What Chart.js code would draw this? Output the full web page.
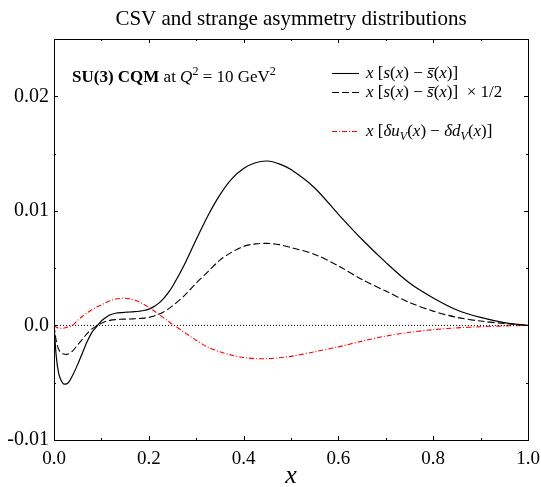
<!DOCTYPE html>
<html>
<head>
<meta charset="utf-8">
<script src="https://cdn.jsdelivr.net/npm/chart.js@4/dist/chart.umd.min.js"></script>
<style>
  html, body { margin: 0; padding: 0; background: #fff; }
  #wrap { width: 541px; height: 487px; }
</style>
</head>
<body>
<div id="wrap"><canvas id="c" width="541" height="487"></canvas></div>
<script>
// Momentum fraction grid shared by all curves
const xGrid = [
  0, 0.005, 0.01, 0.015, 0.02,
  0.03, 0.04, 0.05, 0.06, 0.07, 0.08, 0.09, 0.10, 0.11, 0.12, 0.13, 0.14, 0.15,
  0.16, 0.17, 0.18, 0.19, 0.20, 0.21, 0.22, 0.23, 0.24, 0.25,
  0.275, 0.30, 0.325, 0.35, 0.375, 0.40, 0.425, 0.45, 0.475, 0.50,
  0.55, 0.60, 0.65, 0.70, 0.75, 0.80, 0.85, 0.90, 0.95, 1.00
];

// x[s(x) - sbar(x)]
const strangeAsym = [
  0, -0.0028, -0.0042, -0.0048, -0.0051,
  -0.0050, -0.0043, -0.0034, -0.0024, -0.0014, -0.0006, -0.0001, 0.0004, 0.00072, 0.00095, 0.00106, 0.00112, 0.00115,
  0.00117, 0.0012, 0.00124, 0.0013, 0.00142, 0.00162, 0.0019, 0.0023, 0.0028, 0.0034,
  0.0053, 0.0075, 0.0096, 0.0114, 0.0128, 0.0137, 0.0142, 0.01435, 0.0141, 0.0136,
  0.0120, 0.0097, 0.0075, 0.0055, 0.0037, 0.0024, 0.00135, 0.0007, 0.00025, 0
];

// x[s(x) - sbar(x)] x 1/2
const strangeAsymHalf = [
  0, -0.0014, -0.0021, -0.0024, -0.0025,
  -0.0025, -0.0022, -0.0017, -0.0012, -0.0007, -0.0003, -0.00005, 0.0002, 0.00036, 0.00046, 0.00051, 0.00054, 0.00055,
  0.00056, 0.00058, 0.0006, 0.00064, 0.0007, 0.0008, 0.00095, 0.00115, 0.0014, 0.0017,
  0.0026, 0.0037, 0.0047, 0.0057, 0.0064, 0.0069, 0.00712, 0.00716, 0.00705, 0.0068,
  0.0062, 0.0052, 0.0040, 0.0030, 0.0020, 0.00125, 0.0007, 0.00038, 0.00017, 0
];

// x[delta u_V(x) - delta d_V(x)]
const csvValence = [
  0, -0.00015, -0.00022, -0.00025, -0.00024,
  -0.00014, 0.00003, 0.00045, 0.0008, 0.0011, 0.00137, 0.0016, 0.0018, 0.002, 0.00218, 0.0023, 0.00236, 0.00237,
  0.00232, 0.00222, 0.00205, 0.00183, 0.00158, 0.0013, 0.001, 0.0007, 0.0004, 0.0001,
  -0.0006, -0.0013, -0.0019, -0.0023, -0.0026, -0.0028, -0.0029, -0.0029, -0.00282, -0.0027,
  -0.0023, -0.00187, -0.00137, -0.00093, -0.0006, -0.00037, -0.00021, -0.00011, -0.00004, 0
];

const zeroLineX = [0, 1];
const zeroLineY = [0, 0];

const xTickValues = [0, 0.2, 0.4, 0.6, 0.8, 1.0];
const xTickLabels = ['0.0', '0.2', '0.4', '0.6', '0.8', '1.0'];
const yTickValues = [-0.01, 0, 0.01, 0.02];
const yTickLabels = ['-0.01', '0.0', '0.01', '0.02'];

const SERIF = '"Liberation Serif", "Times New Roman", serif';

function pts(xs, ys) { return xs.map((x, i) => ({ x: x, y: ys[i] })); }

function labelFor(values, labels, v) {
  for (let i = 0; i < values.length; i++) {
    if (Math.abs(values[i] - v) < 1e-9) return labels[i];
  }
  return '';
}

// draws a sequence of text runs (italic / bold / sub / sup / overline)
function drawRuns(ctx, x, y, runs, size) {
  let cx = x;
  ctx.textAlign = 'left';
  ctx.textBaseline = 'alphabetic';
  for (const r of runs) {
    const s = (r.sup || r.sub) ? Math.round(size * 0.7) : size;
    ctx.font = (r.i ? 'italic ' : '') + (r.b ? 'bold ' : '') + s + 'px ' + SERIF;
    const dy = r.sup ? -size * 0.42 : (r.sub ? size * 0.22 : 0);
    ctx.fillText(r.t, cx, y + dy);
    const w = ctx.measureText(r.t).width;
    if (r.over) {
      ctx.save();
      ctx.lineWidth = 1;
      ctx.beginPath();
      ctx.moveTo(cx + 1.5, y - size * 0.56);
      ctx.lineTo(cx + w + 1, y - size * 0.56);
      ctx.stroke();
      ctx.restore();
    }
    cx += w + (r.gap || 0);
  }
}

const legendRows = [
  { y: 73, color: '#000', dash: [], runs: [
    { t: 'x', i: true }, { t: ' [' }, { t: 's', i: true }, { t: '(' }, { t: 'x', i: true }, { t: ') \u2212 ' },
    { t: 's', i: true, over: true }, { t: '(' }, { t: 'x', i: true }, { t: ')]' }
  ]},
  { y: 92, color: '#000', dash: [7, 3], runs: [
    { t: 'x', i: true }, { t: ' [' }, { t: 's', i: true }, { t: '(' }, { t: 'x', i: true }, { t: ') \u2212 ' },
    { t: 's', i: true, over: true }, { t: '(' }, { t: 'x', i: true }, { t: ')]  \u00d7 1/2' }
  ]},
  { y: 131, color: 'rgb(255,0,0)', dash: [5, 2, 1, 2], runs: [
    { t: 'x', i: true }, { t: ' [' }, { t: '\u03b4u', i: true }, { t: 'V', i: true, sub: true }, { t: '(' },
    { t: 'x', i: true }, { t: ') \u2212 ' }, { t: '\u03b4d', i: true }, { t: 'V', i: true, sub: true },
    { t: '(' }, { t: 'x', i: true }, { t: ')]' }
  ]}
];

const decorPlugin = {
  id: 'decor',
  afterDraw(chart) {
    const ctx = chart.ctx;
    const a = chart.chartArea;
    const xs = chart.scales.x, ys = chart.scales.y;
    ctx.save();
    // frame
    ctx.strokeStyle = '#000';
    ctx.lineWidth = 1;
    ctx.strokeRect(Math.round(a.left) + 0.5, Math.round(a.top) + 0.5,
                   Math.round(a.right - a.left), Math.round(a.bottom - a.top));
    // inward ticks on all four sides
    ctx.beginPath();
    for (let k = 0; k <= 10; k++) {
      const v = k / 10;
      const px = Math.round(xs.getPixelForValue(v)) + 0.5;
      const len = (k % 2 === 0) ? 4 : 2;
      ctx.moveTo(px, a.bottom); ctx.lineTo(px, a.bottom - len);
      ctx.moveTo(px, a.top); ctx.lineTo(px, a.top + len);
    }
    for (let k = -2; k <= 5; k++) {
      const v = k * 0.005;
      const py = Math.round(ys.getPixelForValue(v)) + 0.5;
      const len = (k % 2 === 0) ? 4 : 2;
      ctx.moveTo(a.left, py); ctx.lineTo(a.left + len, py);
      ctx.moveTo(a.right, py); ctx.lineTo(a.right - len, py);
    }
    ctx.stroke();

    // title
    ctx.fillStyle = '#000';
    ctx.font = '21px ' + SERIF;
    ctx.textAlign = 'center';
    ctx.textBaseline = 'alphabetic';
    ctx.fillText('CSV and strange asymmetry distributions', (a.left + a.right) / 2, 25);

    // model annotation
    drawRuns(ctx, 72, 82, [
      { t: 'SU(3) CQM', b: true }, { t: ' at ' }, { t: 'Q', i: true }, { t: '2', sup: true },
      { t: ' = 10 GeV' }, { t: '2', sup: true }
    ], 17);

    // legend
    for (const row of legendRows) {
      ctx.save();
      ctx.strokeStyle = row.color;
      ctx.lineWidth = 1.1;
      ctx.setLineDash(row.dash);
      ctx.beginPath();
      ctx.moveTo(332, row.y + 0.5);
      ctx.lineTo(359, row.y + 0.5);
      ctx.stroke();
      ctx.restore();
      ctx.fillStyle = '#000';
      ctx.strokeStyle = '#000';
      drawRuns(ctx, 366, row.y + 5, row.runs, 17);
    }
    ctx.restore();
  }
};

new Chart(document.getElementById('c'), {
  type: 'line',
  data: {
    datasets: [
      { label: 'zero', data: pts(zeroLineX, zeroLineY), borderColor: '#000', borderWidth: 1,
        borderDash: [1, 2], pointRadius: 0, tension: 0 },
      { label: 'x[\u03b4u_V(x) \u2212 \u03b4d_V(x)]', data: pts(xGrid, csvValence), borderColor: 'rgb(255,0,0)',
        borderWidth: 1.1, borderDash: [5, 2, 1, 2], pointRadius: 0, tension: 0.3 },
      { label: 'x[s(x) \u2212 s\u0304(x)] \u00d7 1/2', data: pts(xGrid, strangeAsymHalf), borderColor: '#000',
        borderWidth: 1.1, borderDash: [7, 3], pointRadius: 0, tension: 0.3 },
      { label: 'x[s(x) \u2212 s\u0304(x)]', data: pts(xGrid, strangeAsym), borderColor: '#000',
        borderWidth: 1.2, pointRadius: 0, tension: 0.3 }
    ]
  },
  options: {
    responsive: false,
    animation: false,
    devicePixelRatio: 1,
    layout: { padding: { top: 39, right: 13, left: 0, bottom: 0 } },
    plugins: { legend: { display: false }, title: { display: false }, tooltip: { enabled: false } },
    scales: {
      x: {
        type: 'linear', min: 0, max: 1,
        grid: { display: false, drawTicks: false },
        border: { display: false },
        ticks: {
          stepSize: 0.2, padding: 8, color: '#000', maxRotation: 0,
          font: { family: SERIF, size: 19 },
          callback: (v) => labelFor(xTickValues, xTickLabels, v)
        },
        title: { display: true, text: 'x', color: '#000', padding: { top: 0, bottom: 0 },
                 font: { family: SERIF, size: 26, style: 'italic', lineHeight: 0.8 } },
        afterFit(s) { s.height = 47; s.paddingLeft = 0; s.paddingRight = 0; }
      },
      y: {
        type: 'linear', min: -0.01, max: 0.025,
        grid: { display: false, drawTicks: false },
        border: { display: false },
        ticks: {
          stepSize: 0.01, padding: 5, color: '#000',
          font: { family: SERIF, size: 20 },
          callback: (v) => labelFor(yTickValues, yTickLabels, v)
        },
        afterFit(s) { s.width = 54; s.paddingTop = 0; s.paddingBottom = 0; }
      }
    }
  },
  plugins: [decorPlugin]
});
</script>
</body>
</html>
